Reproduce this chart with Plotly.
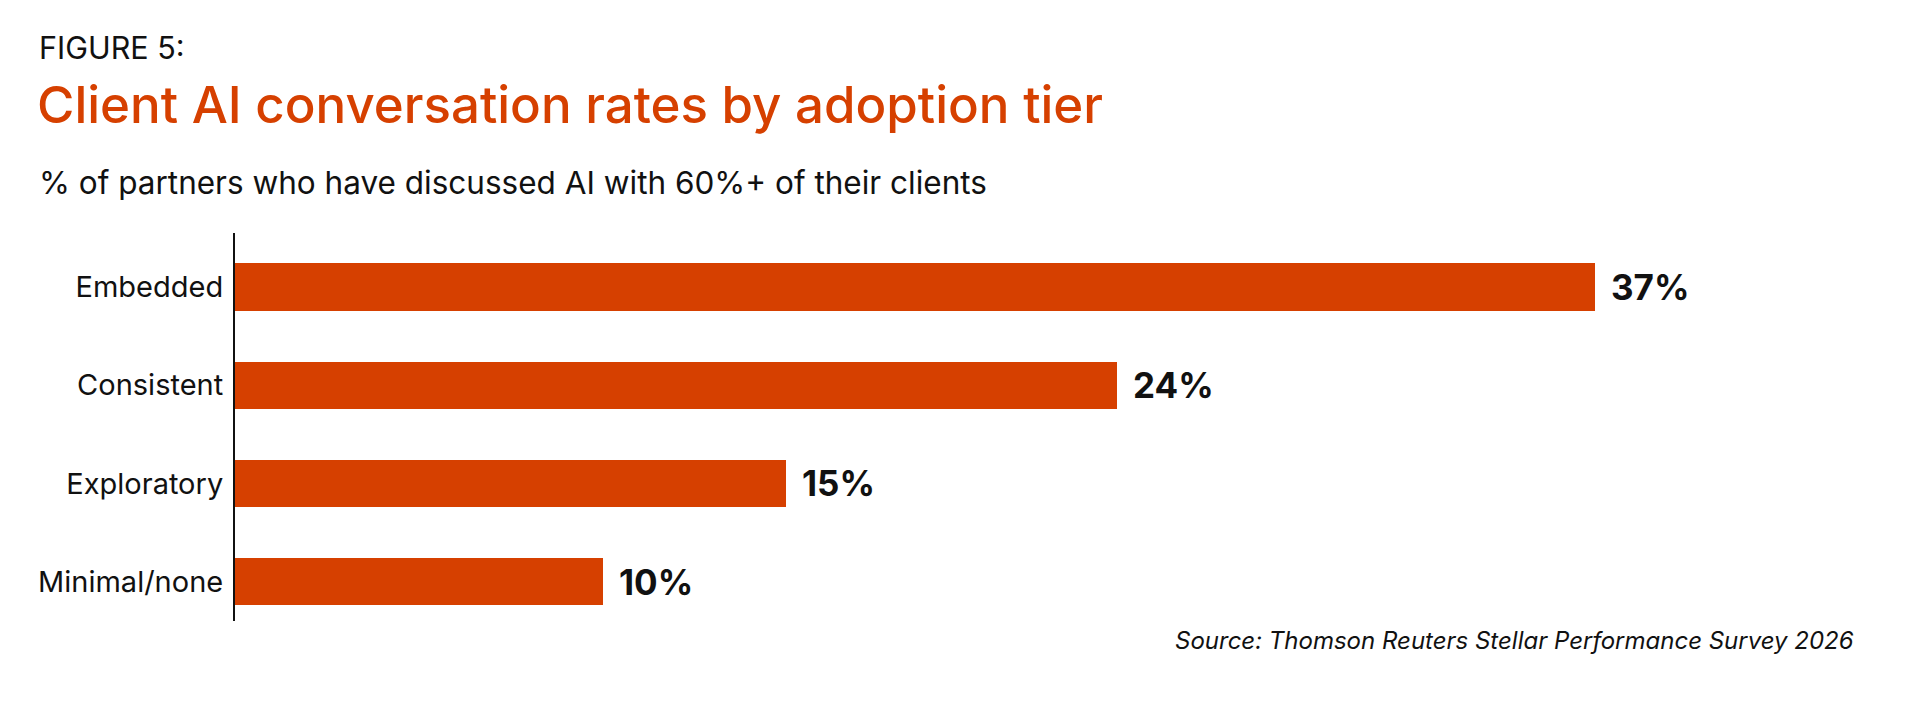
import plotly.graph_objects as go

# data
tiers = ["Embedded", "Consistent", "Exploratory", "Minimal/none"]
pct = [37, 24, 15, 10]
pct_labels = ["37%", "24%", "15%", "10%"]

figure_label = "FIGURE 5:"
title = "Client AI conversation rates by adoption tier"
subtitle = "% of partners who have discussed AI with 60%+ of their clients"
source = "Source: Thomson Reuters Stellar Performance Survey 2026"

ORANGE = "#D64000"
INK = "#111111"
FONT = "Inter"

# page body adds an 8px margin, so the figure is drawn that much smaller
OFF = 8
W, H = 1920 - OFF, 705 - OFF
L, R, T, B = 235 - OFF, 31, 233 - OFF, 84


def px_x(px):
    # screen x (reference picture) -> paper x
    return (px - OFF - L) / (W - L - R)


def px_y(py):
    # screen y (reference picture) -> paper y
    return (H - B - (py - OFF)) / (H - T - B)


fig = go.Figure()

fig.add_trace(go.Bar(
    x=pct,
    y=tiers,
    orientation="h",
    width=0.48,
    marker=dict(color=ORANGE, line=dict(width=0)),
    hoverinfo="skip",
))

# value labels at the end of each bar
for t, v, lab in zip(tiers, pct, pct_labels):
    fig.add_annotation(
        x=v, y=t, text=lab, showarrow=False,
        xanchor="left", yanchor="middle", xshift=14,
        font=dict(family=FONT, size=35, color=INK, weight=700),
    )

# header + footer texts
fig.add_annotation(xref="paper", yref="paper", x=px_x(37), y=px_y(48),
                   text=figure_label, showarrow=False, xanchor="left", yanchor="middle",
                   font=dict(family=FONT, size=30.5, color=INK))
fig.add_annotation(xref="paper", yref="paper", x=px_x(35), y=px_y(104),
                   text=title, showarrow=False, xanchor="left", yanchor="middle",
                   font=dict(family=FONT, size=51, color=ORANGE, weight=500))
fig.add_annotation(xref="paper", yref="paper", x=px_x(37), y=px_y(182),
                   text=subtitle, showarrow=False, xanchor="left", yanchor="middle",
                   font=dict(family=FONT, size=31.5, color=INK))
fig.add_annotation(xref="paper", yref="paper", x=px_x(1856), y=px_y(640),
                   text=source, showarrow=False, xanchor="right", yanchor="middle",
                   font=dict(family=FONT, size=24, color=INK, style="italic"))

fig.update_layout(
    width=W, height=H,
    margin=dict(l=L, r=R, t=T, b=B),
    paper_bgcolor="white",
    plot_bgcolor="white",
    showlegend=False,
    bargap=0,
)

fig.update_xaxes(range=[0, 45], visible=False, fixedrange=True)
fig.update_yaxes(
    categoryorder="array", categoryarray=tiers,
    range=[3.40, -0.55],
    showline=True, linecolor=INK, linewidth=2,
    showgrid=False, zeroline=False, ticks="",
    ticklabelstandoff=4,
    tickfont=dict(family=FONT, size=29, color=INK),
    fixedrange=True,
)

fig.write_html("out.html", config={"displayModeBar": False})
